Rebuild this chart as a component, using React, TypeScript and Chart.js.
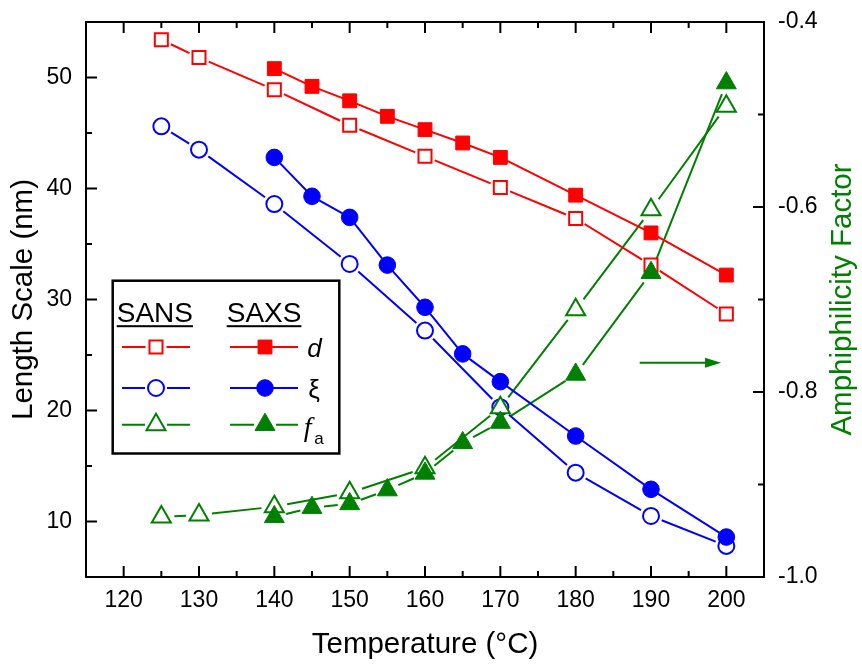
import React, { useEffect, useRef } from 'react';
import { Chart, registerables } from 'chart.js';

Chart.register(...registerables);

const FONT = "'Liberation Sans', Arial, Helvetica, sans-serif";
const SERIF = "'Liberation Serif', 'Times New Roman', serif";
const RED = '#ff0000';
const BLUE = '#0000ff';
const GREEN = '#008000';

// Temperature (°C)
const SANS_TEMPS = [125, 130, 140, 150, 160, 170, 180, 190, 200];
const SAXS_TEMPS = [140, 145, 150, 155, 160, 165, 170, 180, 190, 200];

// Domain spacing d (nm)
const SANS_D = [53.4, 51.8, 48.9, 45.7, 42.9, 40.1, 37.3, 33.1, 28.7];
const SAXS_D = [50.8, 49.2, 47.9, 46.5, 45.3, 44.1, 42.8, 39.4, 36.0, 32.2];

// Correlation length ξ (nm)
const SANS_XI = [45.6, 43.5, 38.6, 33.2, 27.2, 20.3, 14.4, 10.5, 7.8];
const SAXS_XI = [42.8, 39.3, 37.4, 33.1, 29.3, 25.1, 22.6, 17.7, 12.9, 8.6];

// Amphiphilicity factor f_a
const SANS_FA = [-0.935, -0.933, -0.924, -0.909, -0.882, -0.817, -0.711, -0.603, -0.491];
const SAXS_FA = [-0.935, -0.925, -0.921, -0.906, -0.888, -0.855, -0.833, -0.781, -0.671, -0.466];

// Axis ticks
const X_TICKS = [120, 130, 140, 150, 160, 170, 180, 190, 200];
const LEFT_TICKS = [10, 20, 30, 40, 50];
const RIGHT_TICKS = [-1.0, -0.8, -0.6, -0.4];

// Arrow pointing at the right-hand axis (x from/to, y on the left axis)
const ARROW_X = [188.5, 199.3];
const ARROW_Y = 24.3;

const midpoints = (arr: number[]) => arr.slice(1).map((v, i) => (v + arr[i]) / 2);
const pts = (xs: number[], ys: number[]) => xs.map((x, i) => ({ x, y: ys[i] }));

function drawMarker(ctx: CanvasRenderingContext2D, style: string, x: number, y: number, r: number,
  fill: string, stroke: string, bw: number) {
  ctx.beginPath();
  if (style === 'rect') {
    const s = r * Math.SQRT1_2;
    ctx.rect(x - s, y - s, 2 * s, 2 * s);
  } else if (style === 'circle') {
    ctx.arc(x, y, r, 0, Math.PI * 2);
  } else {
    let a = 0;
    ctx.moveTo(x + Math.sin(a) * r, y - Math.cos(a) * r);
    a += (2 * Math.PI) / 3;
    ctx.lineTo(x + Math.sin(a) * r, y - Math.cos(a) * r);
    a += (2 * Math.PI) / 3;
    ctx.lineTo(x + Math.sin(a) * r, y - Math.cos(a) * r);
    ctx.closePath();
  }
  ctx.fillStyle = fill;
  ctx.fill();
  if (bw > 0) {
    ctx.lineWidth = bw;
    ctx.strokeStyle = stroke;
    ctx.stroke();
  }
}

// Connecting lines that stop short of each symbol
const gappedLines = {
  id: 'gappedLines',
  beforeDatasetsDraw(chart: any) {
    const ctx = chart.ctx as CanvasRenderingContext2D;
    chart.data.datasets.forEach((ds: any, i: number) => {
      const meta = chart.getDatasetMeta(i);
      const p = meta.data;
      const gap = ds.lineGap || 0;
      ctx.save();
      ctx.strokeStyle = ds.borderColor;
      ctx.lineWidth = 2;
      ctx.beginPath();
      for (let k = 0; k < p.length - 1; k++) {
        const a = p[k];
        const b = p[k + 1];
        const dx = b.x - a.x;
        const dy = b.y - a.y;
        const len = Math.hypot(dx, dy);
        if (len <= 2 * gap) continue;
        const ux = dx / len;
        const uy = dy / len;
        ctx.moveTo(a.x + ux * gap, a.y + uy * gap);
        ctx.lineTo(b.x - ux * gap, b.y - uy * gap);
      }
      ctx.stroke();
      ctx.restore();
    });
  },
};

// Frame, inward tick marks, arrow, right title and the legend box
const decorations = {
  id: 'decorations',
  afterDraw(chart: any) {
    const ctx = chart.ctx as CanvasRenderingContext2D;
    const ca = chart.chartArea;
    const xs = chart.scales.x;
    const yl = chart.scales.y;
    const yr = chart.scales.y1;
    const MAJ = 11;
    const MIN = 6;

    ctx.save();
    ctx.strokeStyle = '#000';
    ctx.lineWidth = 2;
    ctx.strokeRect(ca.left, ca.top, ca.right - ca.left, ca.bottom - ca.top);

    ctx.beginPath();
    const xTick = (v: number, len: number) => {
      const px = xs.getPixelForValue(v);
      ctx.moveTo(px, ca.bottom);
      ctx.lineTo(px, ca.bottom - len);
      ctx.moveTo(px, ca.top);
      ctx.lineTo(px, ca.top + len);
    };
    X_TICKS.forEach((v) => xTick(v, MAJ));
    midpoints(X_TICKS).forEach((v) => xTick(v, MIN));

    const lTick = (v: number, len: number) => {
      const py = yl.getPixelForValue(v);
      ctx.moveTo(ca.left, py);
      ctx.lineTo(ca.left + len, py);
    };
    LEFT_TICKS.forEach((v) => lTick(v, MAJ));
    midpoints(LEFT_TICKS).forEach((v) => lTick(v, MIN));

    const rTick = (v: number, len: number) => {
      const py = yr.getPixelForValue(v);
      ctx.moveTo(ca.right, py);
      ctx.lineTo(ca.right - len, py);
    };
    RIGHT_TICKS.forEach((v) => rTick(v, MAJ));
    midpoints(RIGHT_TICKS).forEach((v) => rTick(v, MIN));
    ctx.stroke();

    // arrow
    const ax0 = xs.getPixelForValue(ARROW_X[0]);
    const ax1 = xs.getPixelForValue(ARROW_X[1]);
    const ay = yl.getPixelForValue(ARROW_Y);
    ctx.strokeStyle = GREEN;
    ctx.fillStyle = GREEN;
    ctx.lineWidth = 2;
    ctx.beginPath();
    ctx.moveTo(ax0, ay);
    ctx.lineTo(ax1 - 14, ay);
    ctx.stroke();
    ctx.beginPath();
    ctx.moveTo(ax1, ay);
    ctx.lineTo(ax1 - 16, ay - 5);
    ctx.lineTo(ax1 - 16, ay + 5);
    ctx.closePath();
    ctx.fill();

    // right axis title
    ctx.save();
    ctx.translate(ca.right + 78.5, (ca.top + ca.bottom) / 2);
    ctx.rotate(-Math.PI / 2);
    ctx.font = `29.5px ${FONT}`;
    ctx.fillStyle = GREEN;
    ctx.textAlign = 'center';
    ctx.textBaseline = 'middle';
    ctx.fillText('Amphiphilicity Factor', 0, 0);
    ctx.restore();

    // legend box
    const bx = ca.left + 26.7;
    const by = ca.top + 258.7;
    ctx.fillStyle = '#fff';
    ctx.fillRect(bx, by, 226.6, 172.8);
    ctx.strokeStyle = '#000';
    ctx.lineWidth = 2.5;
    ctx.strokeRect(bx, by, 226.6, 172.8);

    ctx.fillStyle = '#000';
    ctx.font = `28px ${FONT}`;
    ctx.textAlign = 'left';
    ctx.textBaseline = 'alphabetic';
    const heads: [string, number][] = [['SANS', 4], ['SAXS', 114]];
    heads.forEach(([t, dx]) => {
      ctx.fillText(t, bx + dx, by + 41.3);
      const w = ctx.measureText(t).width;
      ctx.fillRect(bx + dx, by + 44.5, w, 2);
    });

    const byLabel = (l: string) => chart.data.datasets.find((d: any) => d.label === l);
    const rows: [string, string, number][] = [
      ['SANS d', 'SAXS d', 66.3],
      ['SANS ξ', 'SAXS ξ', 107.3],
      ['SANS fa', 'SAXS fa', 144],
    ];
    rows.forEach(([l1, l2, dy]) => {
      [[byLabel(l1), 9.3, 43.3, 77.3], [byLabel(l2), 117.3, 152.3, 185.3]].forEach(([ds, x0, mx, x1]: any) => {
        const y = by + dy;
        const g = ds.lineGap ? Math.min(ds.lineGap, 11) : 0;
        ctx.strokeStyle = ds.borderColor;
        ctx.lineWidth = 2;
        ctx.beginPath();
        ctx.moveTo(bx + x0, y);
        ctx.lineTo(bx + mx - g, y);
        ctx.moveTo(bx + mx + g, y);
        ctx.lineTo(bx + x1, y);
        ctx.stroke();
        drawMarker(ctx, ds.pointStyle, bx + mx, y, ds.pointRadius, ds.pointBackgroundColor,
          ds.pointBorderColor, ds.pointBorderWidth);
      });
    });

    ctx.fillStyle = '#000';
    ctx.font = `italic 26px ${FONT}`;
    ctx.fillText('d', bx + 194.5, by + 76.3);
    ctx.font = `26px ${FONT}`;
    ctx.fillText('ξ', bx + 195.5, by + 117.3);
    ctx.font = `italic 28px ${SERIF}`;
    ctx.fillText('f', bx + 191, by + 155.3);
    ctx.font = `17px ${FONT}`;
    ctx.fillText('a', bx + 201.5, by + 163.5);

    ctx.restore();
  },
};

export default function App() {
  const canvasRef = useRef<HTMLCanvasElement | null>(null);

  useEffect(() => {
    if (!canvasRef.current) return;
    Chart.defaults.font.family = FONT;

    const datasets: any[] = [
      {
        label: 'SAXS fa', data: pts(SAXS_TEMPS, SAXS_FA), yAxisID: 'y1', borderColor: GREEN,
        pointStyle: 'triangle', pointRadius: 11.5, pointBorderWidth: 1,
        pointBorderColor: GREEN, pointBackgroundColor: GREEN, lineGap: 12,
      },
      {
        label: 'SANS fa', data: pts(SANS_TEMPS, SANS_FA), yAxisID: 'y1', borderColor: GREEN,
        pointStyle: 'triangle', pointRadius: 11, pointBorderWidth: 2,
        pointBorderColor: GREEN, pointBackgroundColor: '#fff', lineGap: 13,
      },
      {
        label: 'SAXS ξ', data: pts(SAXS_TEMPS, SAXS_XI), yAxisID: 'y', borderColor: BLUE,
        pointStyle: 'circle', pointRadius: 8.3, pointBorderWidth: 1,
        pointBorderColor: BLUE, pointBackgroundColor: BLUE, lineGap: 0,
      },
      {
        label: 'SANS ξ', data: pts(SANS_TEMPS, SANS_XI), yAxisID: 'y', borderColor: BLUE,
        pointStyle: 'circle', pointRadius: 8, pointBorderWidth: 2,
        pointBorderColor: BLUE, pointBackgroundColor: '#fff', lineGap: 11.5,
      },
      {
        label: 'SAXS d', data: pts(SAXS_TEMPS, SAXS_D), yAxisID: 'y', borderColor: RED,
        pointStyle: 'rect', pointRadius: 9.8, pointBorderWidth: 1,
        pointBorderColor: RED, pointBackgroundColor: RED, lineGap: 0,
      },
      {
        label: 'SANS d', data: pts(SANS_TEMPS, SANS_D), yAxisID: 'y', borderColor: RED,
        pointStyle: 'rect', pointRadius: 9.2, pointBorderWidth: 2,
        pointBorderColor: RED, pointBackgroundColor: '#fff', lineGap: 10.5,
      },
    ].map((d) => ({ ...d, showLine: false, clip: false, pointHoverRadius: d.pointRadius }));

    const tickFont = { family: FONT, size: 23 };
    const titleFont = { family: FONT, size: 29.5 };
    const noGrid = { display: false, drawTicks: false, tickLength: 0 };
    // fixed axis sizes so the plot frame sits at a set place
    const fitVertical = (w: number) => (s: any) => {
      s.width = w;
      s.paddingTop = 0;
      s.paddingBottom = 0;
    };

    const chart = new Chart(canvasRef.current, {
      type: 'line',
      data: { datasets },
      plugins: [gappedLines, decorations],
      options: {
        animation: false,
        responsive: false,
        events: [],
        layout: { padding: { top: 22, left: 0, right: 0, bottom: 0 } },
        plugins: { legend: { display: false }, tooltip: { enabled: false } },
        scales: {
          x: {
            type: 'linear',
            min: 115,
            max: 205,
            grid: noGrid,
            border: { display: false },
            afterBuildTicks: (s: any) => { s.ticks = X_TICKS.map((value) => ({ value })); },
            afterFit: (s: any) => { s.height = 87; s.paddingLeft = 0; s.paddingRight = 0; },
            ticks: { font: tickFont, color: '#000', padding: 10, maxRotation: 0, callback: (v: any) => String(v) },
            title: {
              display: true, text: 'Temperature (°C)', font: titleFont, color: '#000',
              padding: { top: 0, bottom: 1 },
            },
          },
          y: {
            type: 'linear',
            position: 'left',
            min: 5,
            max: 55,
            grid: noGrid,
            border: { display: false },
            afterBuildTicks: (s: any) => { s.ticks = LEFT_TICKS.map((value) => ({ value })); },
            afterFit: fitVertical(86),
            ticks: { font: tickFont, color: '#000', padding: 14, callback: (v: any) => String(v) },
            title: {
              display: true, text: 'Length Scale (nm)', font: titleFont, color: '#000',
              padding: { top: 6, bottom: 0 },
            },
          },
          y1: {
            type: 'linear',
            position: 'right',
            min: -1.0,
            max: -0.4,
            grid: noGrid,
            border: { display: false },
            afterBuildTicks: (s: any) => { s.ticks = RIGHT_TICKS.map((value) => ({ value })); },
            afterFit: fitVertical(98),
            ticks: { font: tickFont, color: '#000', padding: 14, callback: (v: any) => Number(v).toFixed(1) },
          },
        },
      } as any,
    });

    return () => chart.destroy();
  }, []);

  return (
    <div style={{ position: 'absolute', left: 0, top: 0, width: 862, height: 664, background: '#fff' }}>
      <canvas ref={canvasRef} width={862} height={664} style={{ display: 'block' }} />
    </div>
  );
}
